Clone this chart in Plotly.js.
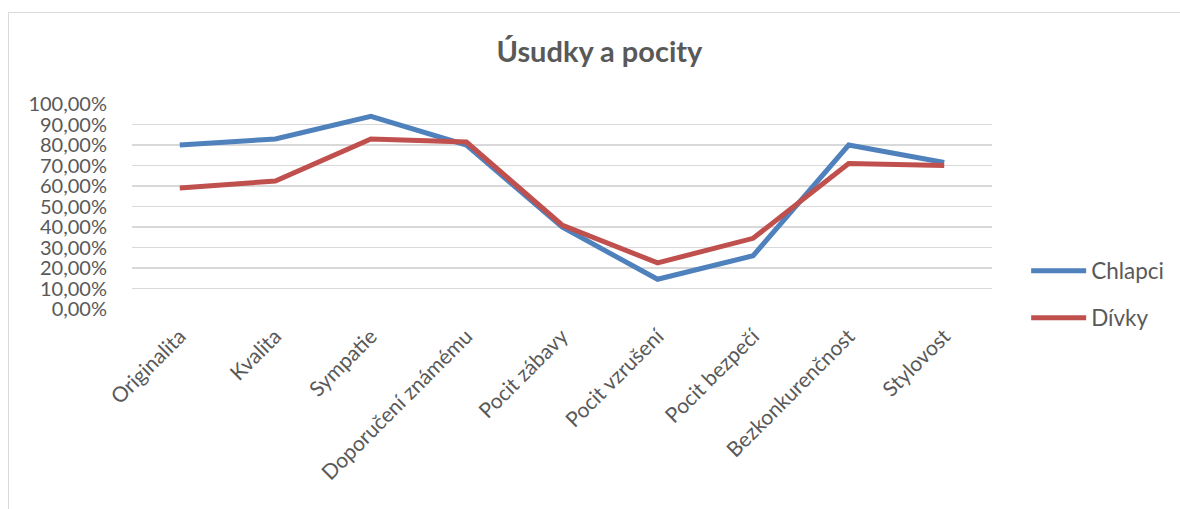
<!DOCTYPE html>
<html>
<head>
<meta charset="utf-8">
<script src="https://cdn.plot.ly/plotly-3.0.1.min.js"></script>
<style>
  html, body { margin: 0; padding: 0; background: #ffffff; }
  #chart { position: absolute; left: 0; top: 0; width: 1180px; height: 509px; }
  #frame { position: absolute; left: 8px; top: 12px; width: 1180px; height: 520px;
           border-left: 1px solid #d9d9d9; border-top: 1px solid #d9d9d9; pointer-events: none; }
</style>
</head>
<body>
<div id="chart"></div>
<div id="frame"></div>
<script>
// Categories and shares for each group
const categories = [
  "Originalita", "Kvalita", "Sympatie", "Doporučení známému", "Pocit zábavy",
  "Pocit vzrušení", "Pocit bezpečí", "Bezkonkurenčnost", "Stylovost"
];
const chlapci = [0.80, 0.83, 0.94, 0.80, 0.40, 0.145, 0.26, 0.80, 0.715];
const divky   = [0.59, 0.625, 0.83, 0.815, 0.41, 0.225, 0.345, 0.71, 0.70];
const yTicks  = [0, 0.1, 0.2, 0.3, 0.4, 0.5, 0.6, 0.7, 0.8, 0.9, 1.0];

const font = "Lato, 'Open Sans', sans-serif";
const grey = "#595959";

const traces = [
  { x: categories, y: chlapci, name: "Chlapci", type: "scatter", mode: "lines",
    line: { color: "#4f81bd", width: 5 }, legend: "legend" },
  { x: categories, y: divky, name: "Dívky", type: "scatter", mode: "lines",
    line: { color: "#c0504d", width: 5 }, legend: "legend2" }
];

const legendBase = {
  xref: "paper", yref: "paper", xanchor: "left", yanchor: "middle",
  itemwidth: 55,
  bgcolor: "rgba(0,0,0,0)", font: { family: font, size: 22.5, color: grey }
};

const layout = {
  width: 1180, height: 509,
  margin: { l: 132, r: 187, t: 104, b: 200 },
  paper_bgcolor: "#ffffff", plot_bgcolor: "#ffffff",
  separators: ", ",
  title: { text: "<b>Úsudky a pocity</b>", font: { family: font, size: 29, color: grey },
           x: 0.508, xanchor: "center", y: 1 - 52 / 509, yanchor: "middle", yref: "container" },
  xaxis: {
    type: "category", range: [-0.5, 8.5], tickangle: -45,
    tickfont: { family: font, size: 21, color: grey },
    showgrid: false, showline: false, ticks: "", zeroline: false, ticklabelstandoff: 10
  },
  yaxis: {
    range: [0, 1.0005], tickvals: yTicks, tickformat: ".2%",
    tickfont: { family: font, size: 20, color: grey },
    showgrid: true, gridcolor: "#d9d9d9", gridwidth: 1.5,
    zeroline: false, showline: false, ticks: "", ticklabelstandoff: 24
  },
  showlegend: true,
  legend: Object.assign({}, legendBase, { x: 1.0385, y: (309 - 271) / 205 }),
  legend2: Object.assign({}, legendBase, { x: 1.0385, y: (309 - 318) / 205 })
};

Plotly.newPlot("chart", traces, layout, { displayModeBar: false, staticPlot: true });
</script>
</body>
</html>
